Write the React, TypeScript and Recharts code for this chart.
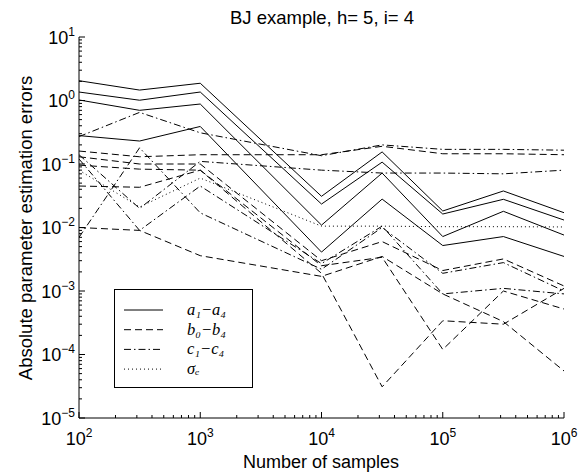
import React from "react";
import { LineChart, Line, XAxis, YAxis, Legend } from "recharts";

const FONT = "'Liberation Sans', Arial, Helvetica, sans-serif";
const MATH = "'Liberation Serif', 'Times New Roman', serif";

// number of samples, x positions of every curve
const samples = [100, 316, 1000, 10000, 31623, 100000, 316228, 1000000];

// a1-a4 (solid)
const a1 = [2.05, 1.46, 1.87, 0.031, 0.155, 0.0182, 0.0376, 0.0171];
const a2 = [1.36, 1.01, 1.36, 0.0234, 0.107, 0.0163, 0.0278, 0.0131];
const a3 = [1.02, 0.7, 0.88, 0.0109, 0.072, 0.0072, 0.018, 0.0076];
const a4 = [0.28, 0.23, 0.39, 0.0041, 0.028, 0.0052, 0.0072, 0.0035];

// b0-b4 (dashed)
const b0 = [0.16, 0.13, 0.14, 0.14, 0.19, 0.145, 0.145, 0.14];
const b1 = [0.13, 0.1, 0.1, 0.003, 0.006, 0.0021, 0.0032, 0.0012];
const b2 = [0.045, 0.043, 0.08, 0.0019, 0.000031, 0.00034, 0.0003, 0.0011];
const b3 = [0.096, 0.083, 0.08, 0.0025, 0.0034, 0.00012, 0.001, 0.00052];
const b4 = [0.01, 0.009, 0.0036, 0.0017, 0.0035, 0.0009, 0.00033, 0.000055];

// c1-c4 (dash-dot)
const c1 = [0.27, 0.65, 0.31, 0.135, 0.2, 0.17, 0.17, 0.165];
const c2 = [0.007, 0.18, 0.017, 0.0022, 0.01, 0.0019, 0.0028, 0.001];
const c3 = [0.14, 0.02, 0.11, 0.08, 0.072, 0.072, 0.07, 0.08];
const c4 = [0.12, 0.009, 0.045, 0.0027, 0.0105, 0.0009, 0.0011, 0.0009];

// sigma_e (dotted)
const sigmaE = [0.08, 0.021, 0.06, 0.0105, 0.0105, 0.0103, 0.0103, 0.0102];

// axis decades and their exponent labels
const xMajor = [1e2, 1e3, 1e4, 1e5, 1e6];
const xExp = ["2", "3", "4", "5", "6"];
const yMajor = [1e-5, 1e-4, 1e-3, 1e-2, 1e-1, 1, 10];
const yExp = ["\u22125", "\u22124", "\u22123", "\u22122", "\u22121", "0", "1"];

const DASH = "7 4";
const DASHDOT = "7 3 1.5 3";
const DOT = "1 3";

const series = [
  { key: "a1", values: a1, dash: undefined },
  { key: "a2", values: a2, dash: undefined },
  { key: "a3", values: a3, dash: undefined },
  { key: "a4", values: a4, dash: undefined },
  { key: "b0", values: b0, dash: DASH },
  { key: "b1", values: b1, dash: DASH },
  { key: "b2", values: b2, dash: DASH },
  { key: "b3", values: b3, dash: DASH },
  { key: "b4", values: b4, dash: DASH },
  { key: "c1", values: c1, dash: DASHDOT },
  { key: "c2", values: c2, dash: DASHDOT },
  { key: "c3", values: c3, dash: DASHDOT },
  { key: "c4", values: c4, dash: DASHDOT },
  { key: "sigmaE", values: sigmaE, dash: DOT },
];

const data = samples.map((n, i) => {
  const row: Record<string, number> = { n };
  series.forEach((s) => (row[s.key] = s.values[i]));
  return row;
});

// major decades plus 2..9 minor ticks in between
const withMinor = (major: number[]) => {
  const out: number[] = [];
  major.forEach((m, i) => {
    out.push(m);
    if (i < major.length - 1) for (let k = 2; k <= 9; k++) out.push(m * k);
  });
  return out;
};
const xTicks = withMinor(xMajor);
const yTicks = withMinor(yMajor);

const majorIndex = (list: number[], v: number) =>
  list.findIndex((m) => Math.abs(m - v) / m < 1e-6);

const BottomTick = ({ x, y, payload }: any) => {
  const i = majorIndex(xMajor, payload.value);
  return (
    <g>
      <line x1={x} x2={x} y1={y} y2={y - (i >= 0 ? 6 : 3)} stroke="#000" />
      {i >= 0 && (
        <text x={x} y={y + 27} textAnchor="middle" fontSize={18} fontFamily={FONT} fill="#000">
          10
          <tspan dy={-8} fontSize={12}>
            {xExp[i]}
          </tspan>
        </text>
      )}
    </g>
  );
};

const TopTick = ({ x, y, payload }: any) => {
  const i = majorIndex(xMajor, payload.value);
  return <line x1={x} x2={x} y1={y} y2={y + (i >= 0 ? 6 : 3)} stroke="#000" />;
};

const LeftTick = ({ x, y, payload }: any) => {
  const i = majorIndex(yMajor, payload.value);
  return (
    <g>
      <line x1={x} x2={x + (i >= 0 ? 6 : 3)} y1={y} y2={y} stroke="#000" />
      {i >= 0 && (
        <text x={x - 4} y={y + 6.5} textAnchor="end" fontSize={18} fontFamily={FONT} fill="#000">
          10
          <tspan dy={-8} fontSize={12}>
            {yExp[i]}
          </tspan>
        </text>
      )}
    </g>
  );
};

const RightTick = ({ x, y, payload }: any) => {
  const i = majorIndex(yMajor, payload.value);
  return <line x1={x} x2={x - (i >= 0 ? 6 : 3)} y1={y} y2={y} stroke="#000" />;
};

const legendRows = [
  { dash: undefined, label: "a\u2081\u2212a\u2084" },
  { dash: DASH, label: "b\u2080\u2212b\u2084" },
  { dash: DASHDOT, label: "c\u2081\u2212c\u2084" },
  { dash: DOT, label: "\u03c3\u2091" },
];

const LegendBox = () => (
  <svg width={139} height={99}>
    <rect x={0.5} y={0.5} width={138} height={98} fill="#fff" stroke="#000" />
    {legendRows.map((r, i) => {
      const cy = 21 + i * 19.7;
      return (
        <g key={r.label}>
          <line x1={10} x2={49} y1={cy} y2={cy} stroke="#000" strokeDasharray={r.dash} />
          <text x={73} y={cy + 5} fontSize={16.5} fontStyle="italic" fontFamily={MATH} fill="#000">
            {r.label}
          </text>
        </g>
      );
    })}
  </svg>
);

export default function App() {
  const logX = { type: "number" as const, scale: "log" as const, domain: [100, 1e6], allowDataOverflow: true };
  const logY = { type: "number" as const, scale: "log" as const, domain: [1e-5, 10], allowDataOverflow: true };
  return (
    <div style={{ position: "absolute", left: 0, top: 0, background: "#fff" }}>
      <LineChart width={586} height={474} data={data} margin={{ top: 37, right: 22, bottom: 0, left: 0 }}>
        <XAxis
          {...logX}
          dataKey="n"
          ticks={xTicks}
          interval={0}
          tickSize={0}
          tickMargin={0}
          height={56}
          axisLine={{ stroke: "#000" }}
          tick={(p: any) => <BottomTick {...p} />}
        />
        <XAxis
          {...logX}
          xAxisId="top"
          orientation="top"
          dataKey="n"
          ticks={xTicks}
          interval={0}
          tickSize={0}
          tickMargin={0}
          height={0}
          axisLine={{ stroke: "#000" }}
          tick={(p: any) => <TopTick {...p} />}
        />
        <YAxis
          {...logY}
          ticks={yTicks}
          interval={0}
          tickSize={0}
          tickMargin={0}
          width={79}
          axisLine={{ stroke: "#000" }}
          tick={(p: any) => <LeftTick {...p} />}
        />
        <YAxis
          {...logY}
          yAxisId="right"
          orientation="right"
          ticks={yTicks}
          interval={0}
          tickSize={0}
          tickMargin={0}
          width={0}
          axisLine={{ stroke: "#000" }}
          tick={(p: any) => <RightTick {...p} />}
        />
        {series.map((s) => (
          <Line
            key={s.key}
            dataKey={s.key}
            type="linear"
            stroke="#000"
            strokeWidth={1}
            strokeDasharray={s.dash}
            dot={false}
            activeDot={false}
            isAnimationActive={false}
          />
        ))}
        <Legend
          verticalAlign="middle"
          align="center"
          layout="horizontal"
          wrapperStyle={{ position: "absolute", left: 114, top: 289, width: 139, height: 99 }}
          content={() => <LegendBox />}
        />
        <text x={322} y={24} textAnchor="middle" fontSize={18.5} fontFamily={FONT} fill="#000">
          BJ example, h= 5, i= 4
        </text>
        <text x={321} y={468} textAnchor="middle" fontSize={18} fontFamily={FONT} fill="#000">
          Number of samples
        </text>
        <text
          x={32}
          y={228}
          transform="rotate(-90 32 228)"
          textAnchor="middle"
          fontSize={18.5}
          fontFamily={FONT}
          fill="#000"
        >
          Absolute parameter estimation errors
        </text>
      </LineChart>
    </div>
  );
}
